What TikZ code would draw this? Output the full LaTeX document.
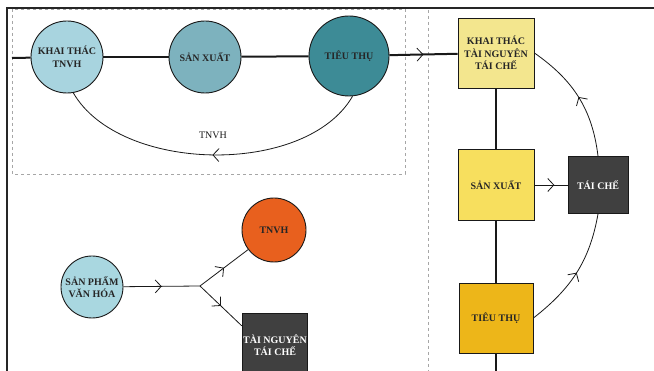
\documentclass[tikz,border=0pt]{standalone}
\usepackage{fontspec}
\setmainfont{Liberation Serif}
\usetikzlibrary{arrows.meta,decorations.markings}

\definecolor{blueA}{HTML}{A8D4DF}
\definecolor{blueB}{HTML}{7DB2BE}
\definecolor{blueC}{HTML}{3D8B96}
\definecolor{blueD}{HTML}{A9D7E0}
\definecolor{orangeA}{HTML}{E8601E}
\definecolor{darkA}{HTML}{404040}
\definecolor{yellowA}{HTML}{F3E68E}
\definecolor{yellowB}{HTML}{F7DF5E}
\definecolor{yellowC}{HTML}{EDB619}

\tikzset{
  stage/.style={circle, draw=black!90, line width=0.9pt, inner sep=0pt, minimum size=72pt,
    align=center, text=black!85, font=\fontsize{10}{12.5}\selectfont\bfseries},
  block/.style={rectangle, draw=black!90, line width=0.9pt, inner sep=1pt, minimum width=76pt,
    minimum height=70pt, align=center, text=black!85, font=\fontsize{10}{12.5}\selectfont\bfseries},
  mainline/.style={line width=2pt, black!90},
  link/.style={line width=0.8pt, black!90},
  midarrow/.style={postaction={decorate}, decoration={markings,
    mark=at position #1 with {\arrow{Straight Barb[length=6pt,width=13pt,line width=0.8pt]}}}},
  midarrow/.default=0.5
}

\begin{document}
\begin{tikzpicture}[x=1pt,y=1pt]
  \useasboundingbox (0,0) rectangle (654,-371);
  \clip (0,0) rectangle (654,-371);
  \fill[white] (0,0) rectangle (654,-371);

  % khung
  \draw[line width=2pt, black!85] (7,-371) -- (7,-8) -- (654,-8);
  \draw[gray!70, dashed, line width=0.7pt] (12,-9) rectangle (405,-174);
  \draw[gray!70, dashed, line width=0.7pt] (428,-10) -- (428,-371);

  % chuoi TNVH
  \coordinate (lstart) at (12,-58);
  \node at (67,-57) (k1) [stage, fill=blueA] {KHAI THÁC\\TNVH};
  \node at (205,-57) (k2) [stage, fill=blueB] {SẢN XUẤT};
  \node at (349,-56) (k3) [stage, fill=blueC, minimum size=80pt] {TIÊU THỤ};
  \draw[mainline] (lstart) -- (k1);
  \draw[mainline] (k1) -- (k2);
  \draw[mainline] (k2) -- (k3);
  \draw[link, midarrow] (k3.-85) to[out=-120, in=-60, looseness=0.85]
    node[midway, above=13pt, font=\fontsize{10}{12}\selectfont] (lbl) {TNVH} (k1.-80);

  % chuoi tai che
  \node at (496,-53) (b1) [block, fill=yellowA] {KHAI THÁC\\TÀI NGUYÊN\\TÁI CHẾ};
  \node at (496,-185) (b2) [block, fill=yellowB, minimum height=71pt] {SẢN XUẤT};
  \node at (496,-318) (b3) [block, fill=yellowC, minimum width=74pt] {TIÊU THỤ};
  \node at (598,-185) (b4) [block, fill=darkA, text=white, minimum width=60pt, minimum height=57pt] {TÁI CHẾ};
  \coordinate (bend) at (496,-380);
  \draw[mainline, midarrow] (k3) -- (b1);
  \draw[mainline, line width=2.4pt] (b1) -- (b2);
  \draw[mainline, line width=2.4pt] (b2) -- (b3);
  \draw[mainline, line width=2.4pt] (b3) -- (bend);
  \draw[link, midarrow=0.6] (b2) -- (b4);
  \draw[link, midarrow] (b3.east) to[out=38, in=-100] (b4.south);
  \draw[link, midarrow] (b4.north) to[out=97, in=-35] (b1.east);

  % san pham van hoa
  \node at (92,-287) (c1) [stage, fill=blueD, minimum size=62pt] {SẢN PHẨM\\VĂN HÓA};
  \coordinate (j) at (200,-286);
  \node at (274,-230) (c2) [stage, fill=orangeA, minimum size=64pt] {TNVH};
  \node at (275,-345) (b5) [block, fill=darkA, text=white, minimum width=60pt, minimum height=64pt] {TÀI NGUYÊN\\TÁI CHẾ};
  \draw[link, midarrow] (c1) -- (j);
  \draw[link, midarrow] (j) -- (c2);
  \draw[link, midarrow] (j) -- (b5.150);
\end{tikzpicture}
\end{document}
